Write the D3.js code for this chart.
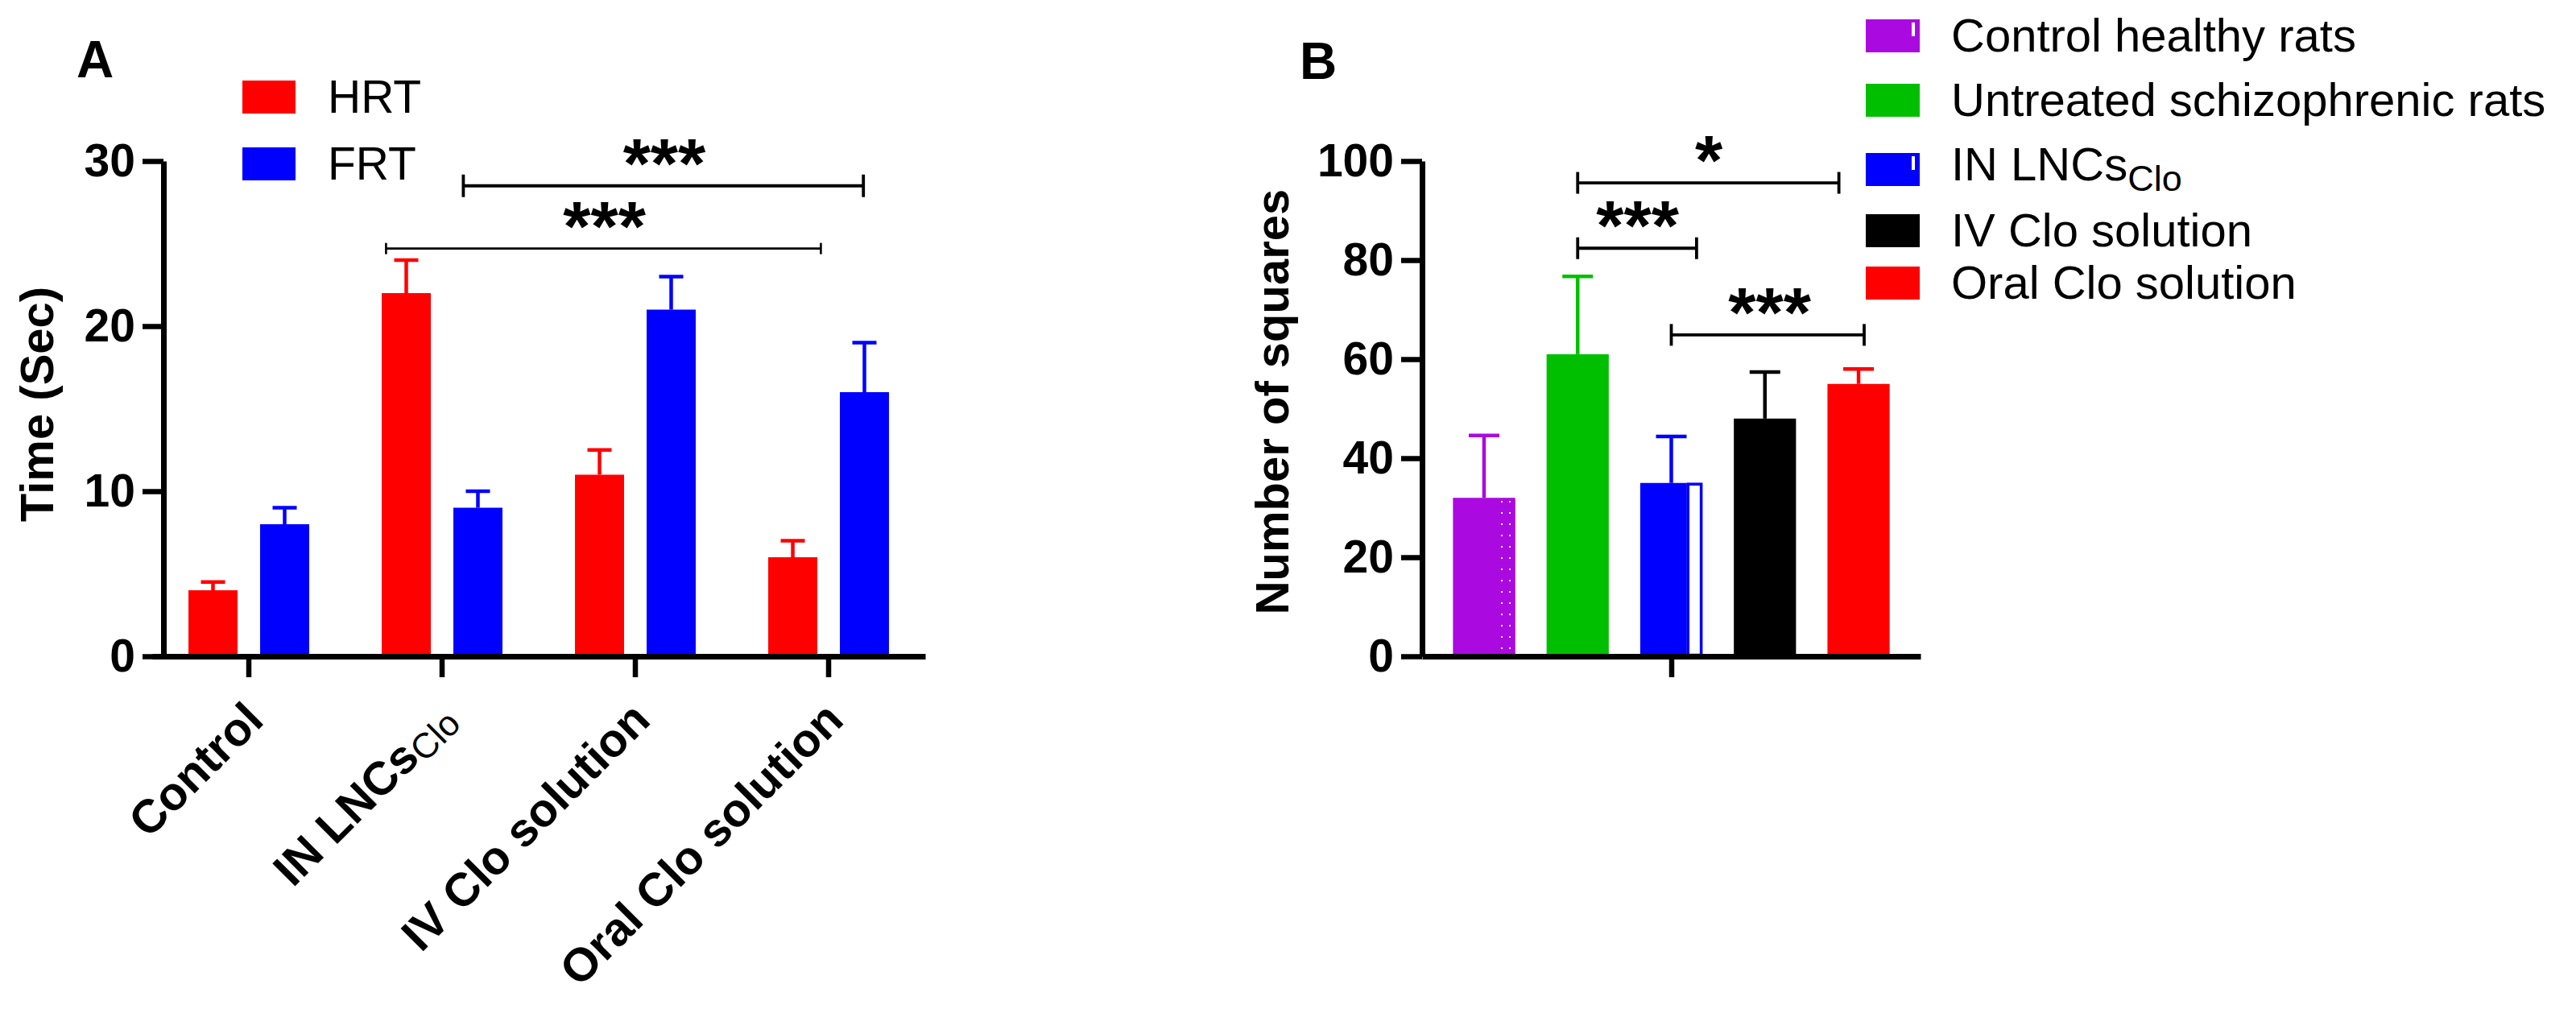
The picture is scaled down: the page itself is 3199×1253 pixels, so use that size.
<!DOCTYPE html>
<html>
<head>
<meta charset="utf-8">
<title>Behaviour tests</title>
<script src="https://d3js.org/d3.v7.min.js"></script>
<style>
  body { margin: 0; background: #fff; }
  text { font-family: "Liberation Sans", Arial, sans-serif; fill: #000; }
</style>
</head>
<body>
<script>
// ---- panel A data ----
const categoriesA = ["Control", "IN LNCs", "IV Clo solution", "Oral Clo solution"];
const subscriptA = ["", "Clo", "", ""];
const seriesA = ["HRT", "FRT"];
const hrtMean = [4, 22, 11, 6];
const hrtErr = [0.5, 2, 1.5, 1];
const frtMean = [8, 9, 21, 16];
const frtErr = [1, 1, 2, 3];
const ticksA = [0, 10, 20, 30];
// brackets: from / to in category index units, height in data units
const sigA = [
  { from: 1.11, to: 3.18, y: 28.5, label: "***", labelAt: 2.15, cap: 14, w: 3.8 },
  { from: 0.71, to: 2.96, y: 24.7, label: "***", labelAt: 1.84, cap: 7, w: 2.6 }
];

// ---- panel B data ----
const groupsB = ["Control healthy rats", "Untreated schizophrenic rats", "IN LNCs", "IV Clo solution", "Oral Clo solution"];
const subscriptB = ["", "", "Clo", "", ""];
const meansB = [32, 61, 35, 48, 55];
const errB = [12.6, 15.7, 9.4, 9.4, 3];
const ticksB = [0, 20, 40, 60, 80, 100];
const sigB = [
  { from: 1, to: 3.79, y: 95.6, label: "*", labelAt: 2.40 },
  { from: 1, to: 2.27, y: 82.4, label: "***", labelAt: 1.64 },
  { from: 2, to: 4.06, y: 64.9, label: "***", labelAt: 3.05 }
];

const colorsA = { HRT: "#ff0000", FRT: "#0000ff" };
const colorsB = ["#aa0ae0", "#00bf00", "#0000ff", "#000000", "#ff0000"];

const W = 3199, H = 1253;
const svg = d3.select("body").append("svg")
  .attr("width", W).attr("height", H)
  .style("background", "#fff");

const defs = svg.append("defs");
const pat = defs.append("pattern").attr("id", "dots")
  .attr("width", 10).attr("height", 14).attr("patternUnits", "userSpaceOnUse");
pat.append("rect").attr("width", 10).attr("height", 14).attr("fill", colorsB[0]);
pat.append("rect").attr("x", 4).attr("y", 6).attr("width", 2).attr("height", 2).attr("fill", "#fff");

const tickLen = 26;
const axisW = 7;

function styleAxis(g) {
  g.select(".domain").attr("stroke-width", axisW).attr("stroke", "#000");
  g.selectAll(".tick line").attr("stroke-width", 6.5).attr("stroke", "#000");
  g.selectAll(".tick text").style("font-size", "57px").style("font-weight", "bold")
    .attr("font-family", null);
}

// ================= PANEL A =================
const yA = d3.scaleLinear().domain([0, 30]).range([815, 200]);
const xA = d3.scaleBand().domain(categoriesA).range([189, 1149]).paddingInner(0).paddingOuter(0);
const xInA = d3.scaleBand().domain(seriesA).range([0, xA.bandwidth()]).paddingInner(0.315).paddingOuter(0.506);
const idxA = d3.scaleLinear().domain([0, 1]).range([xA(categoriesA[0]) + xA.bandwidth() / 2, xA(categoriesA[1]) + xA.bandwidth() / 2]);
const axisXA = 203;

const tableA = categoriesA.flatMap((c, i) => [
  { cat: c, s: "HRT", v: hrtMean[i], e: hrtErr[i] },
  { cat: c, s: "FRT", v: frtMean[i], e: frtErr[i] }
]);

const gA = svg.append("g");

// error bars (drawn first so bars cover their base)
const errA = gA.selectAll("g.errA").data(tableA).join("g").attr("class", "errA");
errA.append("line")
  .attr("x1", d => xA(d.cat) + xInA(d.s) + xInA.bandwidth() / 2)
  .attr("x2", d => xA(d.cat) + xInA(d.s) + xInA.bandwidth() / 2)
  .attr("y1", d => yA(d.v)).attr("y2", d => yA(d.v + d.e))
  .attr("stroke", d => colorsA[d.s]).attr("stroke-width", 4.5);
errA.append("line")
  .attr("x1", d => xA(d.cat) + xInA(d.s) + xInA.bandwidth() / 2 - 15)
  .attr("x2", d => xA(d.cat) + xInA(d.s) + xInA.bandwidth() / 2 + 15)
  .attr("y1", d => yA(d.v + d.e)).attr("y2", d => yA(d.v + d.e))
  .attr("stroke", d => colorsA[d.s]).attr("stroke-width", 4.5);

gA.selectAll("rect.barA").data(tableA).join("rect").attr("class", "barA")
  .attr("x", d => xA(d.cat) + xInA(d.s))
  .attr("width", xInA.bandwidth())
  .attr("y", d => yA(d.v))
  .attr("height", d => yA(0) - yA(d.v))
  .attr("fill", d => colorsA[d.s]);

// y axis
gA.append("g").attr("transform", `translate(${axisXA},0)`)
  .call(d3.axisLeft(yA).tickValues(ticksA).tickSize(tickLen).tickSizeOuter(0).tickPadding(9))
  .call(styleAxis);

// x axis
const xAxisA = gA.append("g").attr("transform", `translate(0,${yA(0)})`)
  .call(d3.axisBottom(xA).tickSize(tickLen).tickSizeOuter(0).tickFormat(""))
  .call(styleAxis);
xAxisA.selectAll(".tick").each(function (d, i) {
  const t = d3.select(this).append("text")
    .attr("text-anchor", "end")
    .attr("transform", "translate(21,82) rotate(-45)")
    .style("font-size", "58px").style("font-weight", "bold");
  t.append("tspan").text(d);
  if (subscriptA[i]) {
    t.append("tspan").text(subscriptA[i]).attr("dy", 6)
      .style("font-size", "44px").style("font-weight", "normal");
  }
});

// axis title
gA.append("text").attr("transform", "translate(66,502) rotate(-90)")
  .attr("text-anchor", "middle").style("font-size", "58px").style("font-weight", "bold")
  .text("Time (Sec)");

// legend
const legA = gA.selectAll("g.legA").data(seriesA).join("g").attr("class", "legA")
  .attr("transform", (d, i) => `translate(301,${100 + i * 83})`);
legA.append("rect").attr("width", 66).attr("height", 41).attr("fill", d => colorsA[d]);
legA.append("text").attr("x", 106).attr("y", 40).style("font-size", "57px").text(d => d);

// significance
function drawSig(g, list, idx, y, capDefault, wDefault) {
  const s = g.selectAll(null).data(list).join("g");
  s.append("line").attr("x1", d => idx(d.from)).attr("x2", d => idx(d.to))
    .attr("y1", d => y(d.y)).attr("y2", d => y(d.y))
    .attr("stroke", "#000").attr("stroke-width", d => d.w || wDefault);
  ["from", "to"].forEach(k => {
    s.append("line").attr("x1", d => idx(d[k])).attr("x2", d => idx(d[k]))
      .attr("y1", d => y(d.y) - (d.cap || capDefault)).attr("y2", d => y(d.y) + (d.cap || capDefault))
      .attr("stroke", "#000").attr("stroke-width", d => d.w || wDefault);
  });
  s.append("text").attr("x", d => idx(d.labelAt)).attr("y", d => y(d.y) + 2)
    .attr("text-anchor", "middle").style("font-size", "88px").style("font-weight", "bold")
    .text(d => d.label);
}
drawSig(gA, sigA, idxA, yA, 14, 3.8);

// panel letter
svg.append("text").attr("x", 95).attr("y", 96).style("font-size", "64px").style("font-weight", "bold").text("A");

// ================= PANEL B =================
const yB = d3.scaleLinear().domain([0, 100]).range([815, 200]);
const axisXB = 1766;
const xB = d3.scaleBand().domain(groupsB).range([axisXB, 2385]).paddingInner(0.336).paddingOuter(0.33);
const idxB = d3.scaleLinear().domain([0, 1]).range([xB(groupsB[0]) + xB.bandwidth() / 2, xB(groupsB[1]) + xB.bandwidth() / 2]);
const tableB = groupsB.map((g, i) => ({ g, i, v: meansB[i], e: errB[i], c: colorsB[i] }));

const gB = svg.append("g");
const errBg = gB.selectAll("g.errB").data(tableB).join("g").attr("class", "errB");
errBg.append("line")
  .attr("x1", d => xB(d.g) + xB.bandwidth() / 2).attr("x2", d => xB(d.g) + xB.bandwidth() / 2)
  .attr("y1", d => yB(d.v)).attr("y2", d => yB(d.v + d.e))
  .attr("stroke", d => d.c).attr("stroke-width", 4.5);
errBg.append("line")
  .attr("x1", d => xB(d.g) + xB.bandwidth() / 2 - 19).attr("x2", d => xB(d.g) + xB.bandwidth() / 2 + 19)
  .attr("y1", d => yB(d.v + d.e)).attr("y2", d => yB(d.v + d.e))
  .attr("stroke", d => d.c).attr("stroke-width", 4.5);

gB.selectAll("rect.barB").data(tableB).join("rect").attr("class", "barB")
  .attr("x", d => xB(d.g)).attr("width", xB.bandwidth())
  .attr("y", d => yB(d.v)).attr("height", d => yB(0) - yB(d.v))
  .attr("fill", d => d.c);

// rendering quirks of the original export: dotted strip on the purple bar, hollow strip on the blue bar
const bw = xB.bandwidth();
gB.append("rect").attr("x", xB(groupsB[0]) + bw * 0.7).attr("width", bw * 0.3)
  .attr("y", yB(meansB[0]) + 2).attr("height", yB(0) - yB(meansB[0]) - 2).attr("fill", "url(#dots)");
gB.append("rect").attr("x", xB(groupsB[2]) + bw * 0.75).attr("width", bw * 0.25)
  .attr("y", yB(meansB[2])).attr("height", yB(0) - yB(meansB[2]))
  .attr("fill", "#fff");
gB.append("rect").attr("x", xB(groupsB[2]) + bw * 0.75 + 1.5).attr("width", bw * 0.25 - 3)
  .attr("y", yB(meansB[2]) + 1.5).attr("height", yB(0) - yB(meansB[2]) - 3)
  .attr("fill", "none").attr("stroke", colorsB[2]).attr("stroke-width", 3.5);

gB.append("g").attr("transform", `translate(${axisXB},0)`)
  .call(d3.axisLeft(yB).tickValues(ticksB).tickSize(tickLen).tickSizeOuter(0).tickPadding(9))
  .call(styleAxis);

// x axis: a single centred tick
const xAxisB = gB.append("g").attr("transform", `translate(0,${yB(0)})`)
  .call(d3.axisBottom(d3.scaleLinear().domain([0, 1]).range(xB.range()))
    .tickValues([0.5]).tickSize(tickLen).tickSizeOuter(0).tickFormat(""))
  .call(styleAxis);

gB.append("text").attr("transform", "translate(1600,499) rotate(-90)")
  .attr("text-anchor", "middle").style("font-size", "58px").style("font-weight", "bold")
  .text("Number of squares");

const legendTopB = [24, 104, 190, 266, 331];
const legB = gB.selectAll("g.legB").data(tableB).join("g").attr("class", "legB")
  .attr("transform", d => `translate(2317,${legendTopB[d.i]})`);
legB.append("rect").attr("width", 67).attr("height", 41).attr("fill", d => d.c);
legB.filter(d => d.i === 0 || d.i === 2).append("rect")
  .attr("x", 57).attr("y", 4).attr("width", 4).attr("height", 17).attr("fill", "#fff");
const legTxt = legB.append("text").attr("x", 106).attr("y", d => d.i === 2 ? 34 : 40).style("font-size", "58px");
legTxt.append("tspan").text(d => d.g);
legTxt.filter(d => subscriptB[d.i]).append("tspan").text(d => subscriptB[d.i])
  .attr("dy", 13).style("font-size", "45px");

drawSig(gB, sigB, idxB, yB, 13.5, 3.8);

svg.append("text").attr("x", 1614).attr("y", 98).style("font-size", "64px").style("font-weight", "bold").text("B");
</script>
</body>
</html>
